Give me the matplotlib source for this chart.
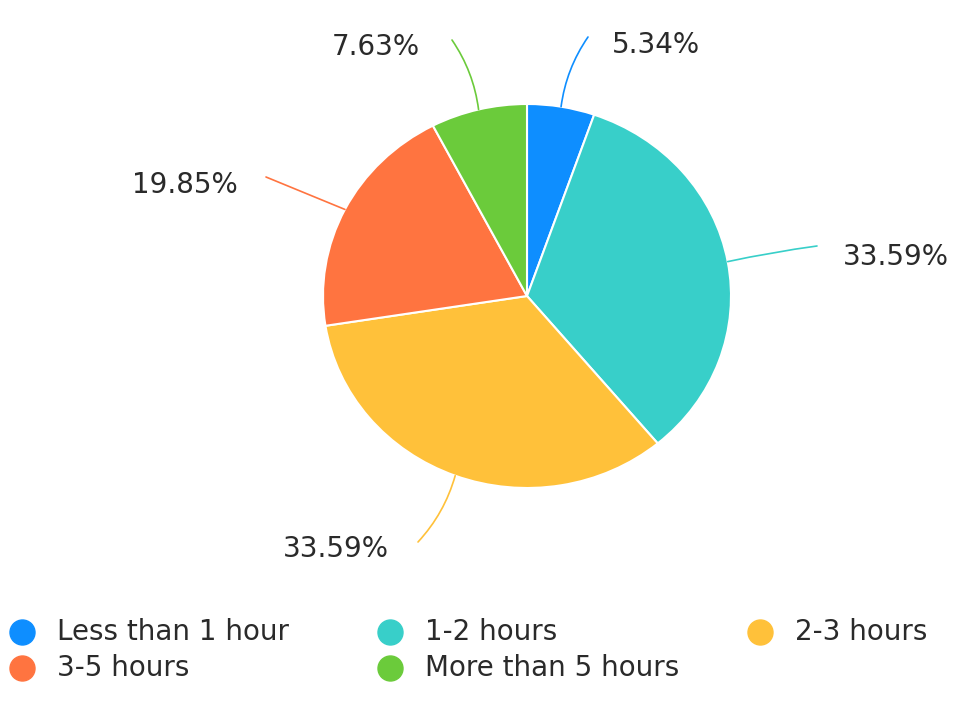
import matplotlib
matplotlib.use("Agg")
import matplotlib.pyplot as plt
from matplotlib.patches import FancyArrowPatch
import numpy as np

# data
categories = ["Less than 1 hour", "1-2 hours", "2-3 hours", "3-5 hours", "More than 5 hours"]
shares = [5.34, 33.59, 33.59, 19.85, 7.63]
colors = ["#0E8EFF", "#38CFC9", "#FFC13A", "#FF7440", "#6BCB3B"]

# layout (pixels from top-left of the image)
W, H = 957, 710
cx, cy = 527, 296          # pie centre
rx, ry = 204, 192          # pie radii (picture is slightly stretched)
# leader line end point, text anchor, alignment, curvature
label_layout = [
    ((588, 37), (612, 45), "left", -0.12),
    ((817, 246), (843, 257), "left", -0.02),
    ((418, 542), (389, 549), "right", -0.12),
    ((266, 177), (238, 185), "right", 0.0),
    ((452, 40), (420, 47), "right", 0.12),
]
legend_cols = [22, 390, 760]
legend_rows = [632, 668]
legend_order = [(0, 0), (0, 1), (0, 2), (1, 0), (1, 1)]


def px(x, y):
    # pixel -> data coordinates (pie radius = 1)
    return (x - cx) / rx, (cy - y) / ry


fig = plt.figure(figsize=(W / 100, H / 100), dpi=100)
ax = fig.add_axes([0, 0, 1, 1])

wedges, _ = ax.pie(shares, colors=colors, startangle=90, counterclock=False,
                   radius=1, wedgeprops=dict(edgecolor="white", linewidth=1.5))
ax.set_aspect("auto")
x0, y0 = px(0, H)
x1, y1 = px(W, 0)
ax.set_xlim(x0, x1)
ax.set_ylim(y0, y1)
ax.axis("off")

for w, val, col, (end, tpos, ha, rad) in zip(wedges, shares, colors, label_layout):
    mid = np.deg2rad((w.theta1 + w.theta2) / 2)
    start = (np.cos(mid), np.sin(mid))
    arr = FancyArrowPatch(posA=start, posB=px(*end), arrowstyle="-",
                          connectionstyle=f"arc3,rad={rad}", color=col,
                          lw=1.2, shrinkA=0, shrinkB=0)
    ax.add_patch(arr)
    tx, ty = px(*tpos)
    ax.text(tx, ty, f"{val:.2f}%", ha=ha, va="center", fontsize=20,
            color="#2a2a2a")

# legend
for (r, c), name, col in zip(legend_order, categories, colors):
    lx, ly = px(legend_cols[c], legend_rows[r])
    ax.plot([lx], [ly], "o", ms=18, color=col, mec=col, clip_on=False)
    tx, ty = px(legend_cols[c] + 35, legend_rows[r])
    ax.text(tx, ty, name, ha="left", va="center", fontsize=20, color="#2a2a2a")

fig.savefig("out.png", dpi=100, facecolor="white")
